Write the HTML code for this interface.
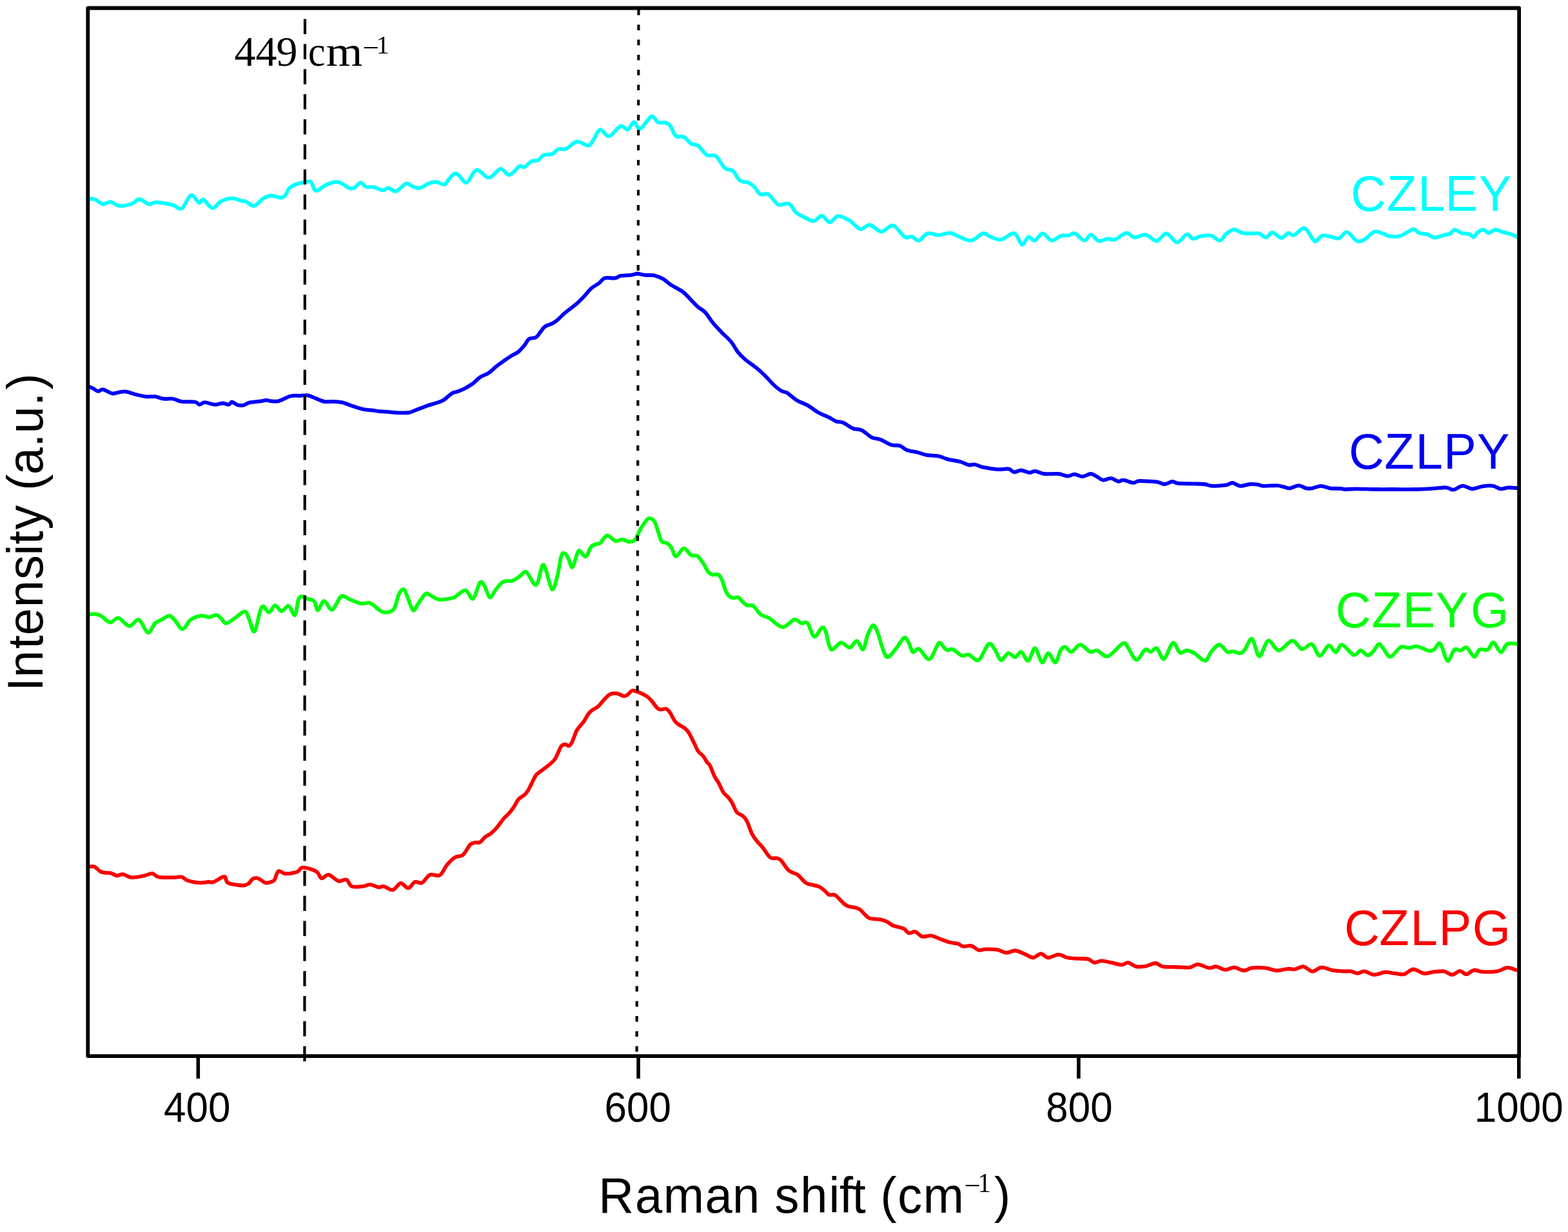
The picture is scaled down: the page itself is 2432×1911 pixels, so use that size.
<!DOCTYPE html><html><head><meta charset="utf-8"><title>Raman spectra</title><style>html,body{margin:0;padding:0;background:#fff;}svg{display:block;}</style></head><body>
<svg width="2432" height="1911" viewBox="0 0 2432 1911">
<rect x="0" y="0" width="2432" height="1911" fill="#fff"/>
<path d="M136.2 309.0C137.9 309.0 142.7 307.7 146.6 309.0C150.5 310.3 155.6 315.9 159.7 316.6C163.8 317.3 167.2 312.7 171.4 313.1C175.7 313.6 179.7 318.8 185.2 319.3C190.7 319.8 199.3 317.6 204.5 315.9C209.7 314.2 211.8 308.9 216.2 309.0C220.6 309.1 226.2 315.8 230.7 316.6C235.2 317.4 237.0 313.6 243.2 313.8C249.4 314.0 261.6 316.4 268.0 318.0C274.4 319.6 277.1 326.0 281.8 323.5C286.5 321.0 291.8 304.3 296.3 302.8C300.8 301.3 305.5 313.4 308.7 314.5C311.9 315.6 312.2 308.3 315.6 309.7C319.1 311.1 324.9 322.4 329.4 322.8C333.9 323.2 337.3 314.9 342.5 312.4C347.7 309.9 355.1 307.7 360.4 307.6C365.7 307.5 370.8 310.9 374.2 311.7C377.6 312.5 377.8 311.1 381.1 312.4C384.4 313.7 389.6 320.1 394.2 319.3C398.8 318.5 404.2 310.2 408.7 307.6C413.2 305.0 416.8 303.6 421.2 303.5C425.6 303.4 431.7 306.9 435.2 306.9C438.7 306.9 439.8 306.0 442.1 303.5C444.4 301.0 446.0 294.7 449.0 291.7C452.0 288.7 456.1 287.0 460.0 285.5C463.9 284.0 468.7 283.4 472.4 282.8C476.1 282.2 479.6 280.3 482.1 282.1C484.6 283.9 485.8 291.6 487.6 293.8C489.4 296.0 490.1 296.4 493.1 295.2C496.1 294.0 501.0 289.1 505.6 286.9C510.2 284.7 516.6 282.5 520.7 282.1C524.8 281.8 527.0 283.2 530.4 284.8C533.8 286.4 538.2 290.6 541.4 291.7C544.6 292.8 546.7 292.5 549.7 291.1C552.7 289.7 556.4 283.7 559.4 283.5C562.4 283.3 564.2 288.6 567.7 289.7C571.2 290.8 575.7 289.5 580.1 290.4C584.5 291.3 590.2 295.0 593.9 295.2C597.6 295.4 598.6 291.5 602.1 291.7C605.6 291.9 610.0 297.8 614.6 296.6C619.2 295.5 625.3 286.0 629.7 284.8C634.1 283.6 637.1 288.6 640.8 289.7C644.5 290.8 648.1 292.4 651.8 291.7C655.5 291.0 659.0 287.1 662.9 285.5C666.8 283.9 670.9 282.0 675.3 282.1C679.7 282.2 685.9 286.6 689.1 286.2C692.3 285.8 692.1 282.8 694.6 280.0C697.1 277.2 701.5 271.1 704.3 269.7C707.1 268.3 708.0 269.4 711.2 271.7C714.5 273.9 719.2 284.5 723.8 283.2C728.4 281.9 733.2 265.1 739.0 263.8C744.8 262.5 752.1 275.9 758.3 275.6C764.5 275.3 770.9 262.5 776.2 261.8C781.5 261.1 785.2 272.0 790.0 271.4C794.8 270.8 801.3 260.4 805.2 258.3C809.1 256.2 810.3 260.4 813.5 259.0C816.7 257.6 821.0 251.7 824.5 250.0C828.0 248.3 831.0 250.3 834.2 248.7C837.4 247.1 840.1 242.0 843.8 240.4C847.5 238.8 852.6 240.5 856.3 239.0C860.0 237.5 862.2 232.8 865.9 231.4C869.6 230.0 873.5 232.6 878.3 230.7C883.1 228.8 889.1 220.5 894.9 219.7C900.6 218.9 908.4 226.6 912.8 225.9C917.2 225.2 918.1 219.7 921.1 215.5C924.1 211.3 926.9 201.7 930.8 201.0C934.7 200.3 939.3 212.3 944.6 211.4C949.9 210.5 957.7 197.2 962.5 195.5C967.3 193.8 970.1 202.0 973.6 201.0C977.1 200.0 980.0 189.5 983.2 189.3C986.4 189.1 988.4 201.1 992.9 199.7C997.4 198.3 1005.7 182.4 1010.3 180.7C1014.9 179.0 1016.9 188.1 1020.7 189.7C1024.5 191.3 1029.9 189.4 1033.1 190.4C1036.3 191.4 1037.5 192.5 1040.0 195.9C1042.5 199.3 1044.8 208.3 1048.3 211.1C1051.8 213.8 1056.8 210.4 1060.7 212.4C1064.6 214.4 1068.1 220.5 1071.8 222.8C1075.5 225.1 1078.7 223.2 1082.8 226.2C1086.9 229.2 1092.0 238.0 1096.6 240.7C1101.2 243.3 1105.8 238.8 1110.4 242.1C1115.0 245.4 1119.8 256.9 1124.2 260.7C1128.6 264.5 1132.7 261.7 1136.6 264.9C1140.5 268.1 1143.5 276.9 1147.6 280.0C1151.7 283.1 1157.7 281.9 1161.4 283.5C1165.1 285.1 1166.7 286.7 1169.7 289.7C1172.7 292.7 1175.7 299.4 1179.4 301.4C1183.1 303.3 1187.2 298.8 1191.8 301.4C1196.4 304.0 1201.7 314.9 1207.0 317.3C1212.3 319.7 1218.9 313.8 1223.5 315.9C1228.1 318.0 1230.7 326.2 1234.6 329.7C1238.5 333.1 1242.4 334.4 1247.0 336.6C1251.6 338.8 1257.6 343.1 1262.2 342.8C1266.8 342.5 1270.5 334.2 1274.6 334.6C1278.7 335.0 1282.8 344.8 1287.0 344.9C1291.2 345.0 1294.6 335.7 1299.7 335.2C1304.8 334.7 1311.8 338.8 1317.6 342.1C1323.3 345.4 1328.9 354.1 1334.2 355.2C1339.5 356.3 1343.8 348.3 1349.3 349.0C1354.8 349.7 1361.3 359.2 1367.3 359.3C1373.3 359.4 1379.2 348.3 1385.2 349.7C1391.2 351.1 1398.4 364.7 1403.2 367.6C1408.0 370.5 1410.5 366.0 1414.2 366.9C1417.9 367.8 1421.1 373.9 1425.2 373.1C1429.3 372.3 1433.9 363.5 1439.0 362.1C1444.1 360.7 1449.8 364.9 1455.6 364.8C1461.3 364.7 1468.0 360.9 1473.5 361.4C1479.0 361.9 1483.2 365.7 1488.7 367.6C1494.2 369.6 1500.6 374.0 1506.6 373.1C1512.6 372.2 1519.8 363.1 1524.6 362.1C1529.4 361.1 1531.0 365.3 1535.6 366.9C1540.2 368.5 1546.5 372.5 1552.2 371.7C1558.0 370.9 1566.0 363.1 1570.1 362.1C1574.2 361.1 1574.5 362.6 1577.0 365.5C1579.5 368.4 1582.3 379.1 1585.3 379.5C1588.3 379.9 1592.0 368.7 1595.2 367.6C1598.5 366.5 1601.1 374.0 1604.8 373.1C1608.5 372.2 1612.9 362.1 1617.3 362.1C1621.7 362.1 1626.3 372.5 1631.1 373.1C1635.9 373.7 1641.8 366.8 1646.2 365.5C1650.6 364.2 1653.8 366.1 1657.3 365.5C1660.8 364.9 1662.8 360.8 1666.9 362.1C1671.0 363.4 1677.9 372.8 1682.1 373.1C1686.2 373.5 1688.1 364.1 1691.8 364.2C1695.5 364.3 1699.8 372.8 1704.2 373.8C1708.6 374.8 1713.9 370.8 1718.0 370.4C1722.1 370.0 1724.2 373.2 1729.0 371.7C1733.8 370.2 1741.9 362.0 1747.0 361.4C1752.1 360.8 1754.4 367.8 1759.4 368.3C1764.5 368.8 1771.5 363.3 1777.3 364.2C1783.0 365.1 1788.6 374.1 1793.9 373.8C1799.2 373.5 1803.8 361.8 1809.1 362.1C1814.4 362.5 1820.3 375.7 1825.6 375.9C1830.9 376.1 1836.6 364.4 1840.8 363.5C1845.0 362.6 1846.8 369.9 1850.5 370.4C1854.2 370.8 1858.3 367.0 1862.9 366.2C1867.5 365.4 1873.4 364.4 1878.3 365.5C1883.2 366.6 1888.2 373.6 1892.1 373.1C1896.0 372.7 1898.0 365.7 1901.7 362.8C1905.4 359.9 1910.1 356.1 1914.2 355.9C1918.3 355.7 1922.0 360.4 1926.6 361.4C1931.2 362.4 1937.4 362.0 1941.8 362.1C1946.2 362.2 1949.1 361.1 1952.8 362.1C1956.5 363.1 1960.3 368.5 1963.8 368.3C1967.2 368.1 1969.6 360.6 1973.5 360.7C1977.4 360.8 1983.2 368.9 1987.3 369.0C1991.4 369.1 1995.1 362.1 1998.3 361.4C2001.5 360.7 2002.7 366.1 2006.6 364.8C2010.5 363.5 2017.9 354.4 2021.8 353.8C2025.7 353.2 2027.1 357.9 2030.1 361.4C2033.1 364.8 2036.2 373.8 2039.7 374.5C2043.2 375.2 2046.4 366.6 2050.8 365.5C2055.2 364.4 2061.5 366.9 2065.9 367.6C2070.3 368.3 2073.1 371.0 2077.0 369.7C2080.9 368.4 2084.8 359.3 2089.4 360.0C2094.0 360.7 2100.0 371.9 2104.6 373.8C2109.2 375.7 2112.4 373.5 2117.0 371.1C2121.6 368.7 2127.4 360.7 2132.2 359.3C2137.0 357.9 2142.2 361.6 2146.0 362.8C2149.8 364.0 2151.1 365.8 2155.2 366.4C2159.3 367.0 2166.2 367.2 2170.4 366.4C2174.6 365.6 2176.8 363.2 2180.5 361.4C2184.2 359.5 2189.2 355.3 2192.6 355.3C2196.0 355.3 2197.1 360.0 2200.7 361.4C2204.2 362.8 2209.8 362.2 2213.9 363.4C2218.0 364.6 2220.4 368.3 2225.0 368.5C2229.6 368.7 2237.1 365.4 2241.2 364.4C2245.2 363.4 2246.8 363.8 2249.3 362.4C2251.8 361.0 2253.5 356.5 2256.4 356.3C2259.3 356.1 2262.6 360.2 2266.5 361.4C2270.4 362.6 2276.4 362.3 2279.6 363.4C2282.8 364.5 2283.7 368.5 2285.7 368.0C2287.7 367.5 2289.3 362.3 2291.8 360.4C2294.3 358.4 2298.0 356.1 2300.9 356.3C2303.8 356.5 2306.0 361.4 2309.0 361.4C2312.0 361.4 2315.2 356.5 2319.1 356.3C2323.0 356.1 2328.1 359.2 2332.3 360.4C2336.5 361.6 2341.0 362.2 2344.4 363.4C2347.8 364.6 2351.2 366.7 2352.5 367.4" fill="none" stroke="#00FFFF" stroke-width="5.8" stroke-linejoin="round" stroke-linecap="round"/>
<path d="M136.9 599.3C138.1 599.8 141.3 600.8 143.8 602.1C146.3 603.4 149.4 606.6 152.1 606.9C154.8 607.2 156.0 603.5 159.7 604.1C163.4 604.7 169.9 609.7 174.2 610.4C178.4 611.1 181.5 608.8 185.2 608.3C188.9 607.8 192.1 607.0 196.2 607.6C200.3 608.2 204.9 610.4 210.0 611.7C215.1 613.0 221.5 614.6 226.6 615.2C231.7 615.8 235.8 614.6 240.4 615.2C245.0 615.8 249.6 618.0 254.2 618.6C258.8 619.2 263.4 617.9 268.0 618.6C272.6 619.3 276.1 622.0 281.8 622.8C287.6 623.6 297.9 622.7 302.5 623.5C307.1 624.3 306.9 627.5 309.4 627.6C311.9 627.7 313.8 624.2 317.7 624.2C321.6 624.2 328.2 627.4 332.8 627.6C337.4 627.8 341.6 625.5 345.3 625.5C349.0 625.5 352.5 627.9 354.9 627.6C357.3 627.3 357.4 623.4 359.7 623.5C362.0 623.6 365.6 627.5 368.7 628.3C371.8 629.1 375.2 629.0 378.4 628.3C381.6 627.6 383.4 625.2 388.0 624.2C392.6 623.2 401.9 622.7 406.0 622.1C410.1 621.5 410.6 620.7 412.9 620.7C415.2 620.7 416.8 621.9 420.0 622.1C423.2 622.3 427.3 623.4 432.4 622.1C437.5 620.8 444.9 615.9 450.4 614.5C455.9 613.1 461.1 614.0 465.5 613.8C469.9 613.6 473.4 612.8 476.6 613.1C479.8 613.5 480.5 614.3 484.9 615.9C489.3 617.5 497.5 621.6 502.8 622.8C508.1 623.9 512.0 622.6 516.6 622.8C521.2 623.0 525.8 623.2 530.4 624.2C535.0 625.2 540.5 627.8 544.2 629.0C547.9 630.2 549.0 630.7 552.5 631.7C556.0 632.7 560.5 634.4 564.9 635.2C569.3 636.0 574.8 636.1 578.7 636.6C582.6 637.1 584.8 637.7 588.3 638.0C591.8 638.3 595.2 638.3 599.4 638.6C603.5 638.9 607.5 639.8 613.2 640.0C619.0 640.2 628.9 640.6 633.9 640.0C638.9 639.4 638.9 638.3 643.5 636.6C648.1 634.9 656.2 631.6 661.5 629.7C666.8 627.9 670.9 627.0 675.3 625.5C679.7 624.0 683.3 623.3 687.7 620.7C692.1 618.1 697.8 611.9 701.5 609.7C705.2 607.5 706.8 608.5 710.0 607.3C713.2 606.1 717.1 604.6 721.0 602.5C724.9 600.4 729.6 597.8 733.5 594.9C737.4 592.0 740.4 588.0 744.5 585.2C748.6 582.4 754.2 581.0 758.3 578.3C762.4 575.5 765.4 571.8 769.3 568.7C773.2 565.6 777.9 562.5 781.8 559.7C785.7 556.9 789.1 554.4 792.8 552.1C796.5 549.8 800.3 548.6 803.8 545.9C807.2 543.1 810.7 538.9 813.5 535.6C816.3 532.3 817.4 528.0 820.4 525.9C823.4 523.8 828.4 525.0 831.4 523.2C834.4 521.4 836.0 517.7 838.3 514.9C840.6 512.1 842.2 508.8 845.2 506.6C848.2 504.4 853.3 503.3 856.3 501.8C859.3 500.3 860.0 500.2 863.2 497.6C866.4 495.0 871.5 489.5 875.6 485.9C879.7 482.3 884.5 479.0 888.0 476.2C891.5 473.4 893.3 472.1 896.3 469.3C899.3 466.6 902.4 463.4 905.9 459.7C909.4 456.0 913.1 450.8 917.0 447.3C920.9 443.9 925.9 441.6 929.4 439.0C932.9 436.4 933.6 432.7 937.7 431.4C941.8 430.1 950.1 432.0 954.2 431.4C958.3 430.8 958.4 428.7 962.5 427.9C966.6 427.1 974.7 427.2 979.1 426.6C983.5 426.0 985.2 424.5 988.7 424.5C992.2 424.5 995.6 426.2 999.8 426.6C1004.0 427.1 1009.2 426.3 1013.8 427.2C1018.4 428.1 1023.0 429.6 1027.6 432.1C1032.2 434.6 1036.1 438.9 1041.4 442.4C1046.7 445.8 1054.2 449.0 1059.3 452.8C1064.4 456.6 1067.9 461.3 1071.8 465.2C1075.7 469.1 1079.1 473.0 1082.8 476.2C1086.5 479.4 1090.1 480.6 1093.8 484.5C1097.5 488.4 1100.8 494.6 1104.9 499.7C1109.1 504.8 1113.9 509.8 1118.7 514.9C1123.5 519.9 1129.4 524.7 1133.8 530.0C1138.2 535.3 1141.2 542.0 1144.9 546.6C1148.6 551.2 1151.3 553.7 1155.9 557.6C1160.5 561.5 1167.4 566.0 1172.5 570.1C1177.6 574.2 1181.7 578.0 1186.3 582.5C1190.9 587.0 1195.8 593.0 1200.1 597.0C1204.4 601.0 1209.0 604.6 1212.4 606.6C1215.8 608.6 1216.8 606.9 1220.7 609.3C1224.6 611.7 1230.6 617.8 1235.9 621.0C1241.2 624.2 1246.9 625.5 1252.4 628.6C1257.9 631.7 1263.5 636.6 1269.0 639.7C1274.5 642.8 1281.0 645.0 1285.6 647.3C1290.2 649.6 1292.9 652.1 1296.6 653.5C1300.3 654.9 1303.2 653.7 1307.6 655.5C1312.0 657.3 1318.0 662.5 1322.8 664.5C1327.6 666.5 1331.8 665.0 1336.6 667.3C1341.4 669.6 1347.0 675.9 1351.8 678.3C1356.6 680.7 1360.5 679.8 1365.6 681.8C1370.6 683.8 1377.0 688.4 1382.1 690.0C1387.1 691.6 1391.8 690.0 1395.9 691.4C1400.1 692.8 1402.4 696.6 1407.0 698.3C1411.6 700.0 1418.5 700.5 1423.5 701.8C1428.5 703.1 1432.0 705.0 1437.3 705.9C1442.6 706.8 1450.0 706.3 1455.3 707.3C1460.6 708.3 1463.3 710.6 1469.1 712.1C1474.8 713.6 1484.2 714.8 1489.8 716.3C1495.3 717.8 1498.7 720.5 1502.4 721.2C1506.1 721.9 1508.4 719.9 1512.1 720.5C1515.8 721.1 1518.5 723.4 1524.5 724.7C1530.5 726.0 1541.3 727.7 1548.0 728.1C1554.7 728.5 1560.4 726.7 1564.5 727.4C1568.6 728.1 1569.6 731.9 1572.8 732.3C1576.0 732.6 1579.9 729.4 1583.8 729.5C1587.7 729.6 1592.6 732.8 1596.3 733.0C1600.0 733.2 1602.0 730.6 1605.9 730.9C1609.8 731.2 1613.7 734.3 1619.7 735.0C1625.7 735.7 1635.8 734.4 1641.8 735.0C1647.8 735.6 1651.5 738.4 1655.6 738.5C1659.7 738.6 1662.7 735.6 1666.6 735.7C1670.5 735.8 1674.8 739.3 1679.0 739.2C1683.2 739.1 1687.8 735.0 1691.5 735.0C1695.2 735.0 1697.9 737.6 1701.1 739.2C1704.3 740.8 1707.1 744.2 1710.8 744.7C1714.5 745.2 1719.3 741.6 1723.2 741.9C1727.1 742.2 1731.0 746.2 1734.2 746.7C1737.4 747.2 1738.6 744.4 1742.5 744.7C1746.4 745.1 1753.8 748.6 1757.7 748.8C1761.6 749.0 1762.3 746.5 1766.0 746.1C1769.7 745.7 1774.9 746.2 1779.8 746.5C1784.7 746.8 1790.8 746.9 1795.2 747.6C1799.6 748.4 1802.3 751.1 1806.2 751.0C1810.1 750.9 1815.1 747.1 1818.6 746.9C1822.0 746.7 1821.8 749.1 1826.9 749.7C1832.0 750.3 1842.1 750.2 1849.0 750.4C1855.9 750.6 1863.0 750.4 1868.3 751.0C1873.6 751.6 1875.2 753.6 1880.7 753.8C1886.2 754.0 1896.2 753.2 1901.4 752.4C1906.6 751.6 1908.1 748.8 1911.8 749.0C1915.5 749.2 1919.0 753.5 1923.5 753.8C1928.0 754.1 1934.1 751.4 1938.7 751.0C1943.3 750.6 1947.6 751.2 1951.1 751.7C1954.5 752.2 1954.6 753.6 1959.4 753.8C1964.2 754.0 1974.8 752.9 1980.1 753.1C1985.4 753.3 1987.6 754.5 1991.1 755.2C1994.5 755.9 1996.9 757.6 2000.8 757.3C2004.7 756.9 2010.5 753.1 2014.6 753.1C2018.7 753.1 2022.1 756.6 2025.6 757.3C2029.0 758.0 2031.4 757.9 2035.3 757.3C2039.2 756.7 2044.5 753.8 2049.1 753.8C2053.7 753.8 2057.8 756.6 2062.9 757.3C2068.1 758.0 2076.2 757.6 2080.0 757.9C2083.8 758.2 2082.1 758.9 2086.0 759.0C2089.9 759.1 2094.9 758.3 2103.3 758.3C2111.8 758.3 2126.7 758.9 2136.7 759.0C2146.7 759.1 2153.4 759.0 2163.4 759.0C2173.4 759.0 2186.7 759.2 2196.7 759.0C2206.7 758.8 2215.6 758.2 2223.4 757.7C2231.2 757.2 2238.3 756.0 2243.4 756.3C2248.5 756.6 2249.9 760.1 2254.1 759.7C2258.3 759.3 2263.8 753.9 2268.7 753.7C2273.6 753.5 2278.3 758.2 2283.4 758.3C2288.5 758.4 2294.1 755.1 2299.4 754.3C2304.7 753.5 2310.7 753.0 2315.4 753.7C2320.1 754.4 2323.4 757.9 2327.4 758.3C2331.4 758.7 2335.2 756.5 2339.4 756.3C2343.6 756.1 2350.2 756.9 2352.4 757.0" fill="none" stroke="#0000F8" stroke-width="5.8" stroke-linejoin="round" stroke-linecap="round"/>
<path d="M136.9 953.1C138.7 953.0 144.5 951.9 147.9 952.4C151.3 952.9 153.8 953.7 157.6 955.9C161.4 958.1 166.3 965.0 170.7 965.5C175.1 966.0 178.9 957.7 183.8 958.6C188.8 959.5 195.1 970.6 200.4 971.1C205.7 971.6 210.8 959.7 215.6 961.4C220.4 963.1 225.3 980.5 229.4 981.4C233.5 982.3 236.7 970.3 240.4 966.9C244.1 963.5 247.7 962.7 251.4 960.7C255.1 958.8 259.3 955.1 262.5 955.2C265.7 955.3 267.2 958.0 270.7 961.4C274.1 964.8 279.0 975.9 283.2 975.9C287.4 975.9 290.8 964.8 295.6 961.4C300.4 958.0 307.3 955.9 312.1 955.2C316.9 954.5 320.7 957.5 324.6 957.3C328.5 957.1 332.6 953.6 335.6 953.8C338.6 954.0 340.0 956.4 342.5 958.6C345.0 960.8 347.1 966.9 350.8 966.9C354.5 966.9 359.8 961.7 364.6 958.6C369.4 955.5 376.1 947.8 379.8 948.3C383.5 948.8 384.2 956.2 386.7 961.4C389.2 966.6 391.7 982.6 394.9 979.3C398.1 976.0 402.3 946.3 406.0 941.4C409.7 936.5 413.5 950.1 417.0 949.7C420.5 949.3 423.5 939.5 426.8 939.2C430.1 938.9 433.1 947.9 436.6 948.0C440.1 948.1 444.2 938.7 447.6 939.7C451.1 940.7 454.8 955.8 457.3 954.2C459.8 952.6 461.0 934.8 462.8 930.0C464.6 925.2 465.8 925.3 468.3 925.2C470.8 925.1 474.8 928.0 478.0 929.3C481.2 930.6 485.1 929.9 487.6 932.8C490.1 935.7 490.6 946.7 493.1 946.6C495.6 946.5 499.1 932.2 502.8 932.1C506.5 932.0 510.8 947.0 515.2 945.9C519.6 944.8 524.6 928.0 529.0 925.2C533.4 922.4 536.3 927.5 541.4 929.3C546.5 931.1 554.3 935.3 559.4 936.2C564.5 937.1 568.6 934.4 571.8 934.8C575.0 935.1 575.0 935.9 578.7 938.3C582.4 940.7 588.6 948.1 593.9 949.3C599.2 950.4 606.3 949.8 610.4 945.2C614.5 940.6 616.1 926.9 618.7 921.7C621.4 916.5 624.0 913.2 626.3 914.1C628.6 915.0 630.1 921.9 632.5 927.3C634.9 932.7 638.0 945.2 640.8 946.6C643.6 948.0 645.9 939.8 649.1 935.5C652.3 931.2 656.9 923.0 660.1 921.0C663.3 919.0 665.0 922.3 668.4 923.8C671.8 925.3 675.0 929.4 680.8 930.0C686.5 930.6 698.0 928.5 702.9 927.3C707.8 926.0 706.8 924.5 710.0 922.5C713.2 920.5 718.5 914.6 722.4 915.6C726.3 916.6 729.8 930.7 733.5 928.7C737.2 926.7 741.5 907.1 744.5 903.8C747.5 900.5 748.9 904.9 751.4 908.7C753.9 912.5 756.7 925.7 759.7 926.6C762.7 927.5 765.8 918.2 769.3 914.2C772.8 910.2 776.0 904.8 780.4 902.5C784.8 900.2 791.2 901.9 795.6 900.4C800.0 898.9 803.2 895.7 806.6 893.5C810.0 891.3 812.2 885.0 816.3 887.3C820.4 889.6 827.3 908.9 831.4 907.3C835.5 905.7 838.6 881.5 841.1 877.6C843.6 873.7 844.1 877.7 846.6 883.8C849.1 889.9 853.3 912.6 856.3 914.2C859.3 915.8 862.1 902.2 864.5 893.5C866.9 884.8 868.7 867.5 870.8 861.8C872.9 856.0 875.0 857.9 877.0 859.0C879.0 860.1 880.7 865.2 882.5 868.7C884.3 872.2 885.7 881.8 888.0 879.7C890.3 877.6 894.2 860.2 896.3 856.2C898.4 852.2 898.3 854.4 900.4 855.5C902.5 856.6 905.9 864.4 908.7 863.1C911.5 861.9 914.2 851.2 917.0 848.0C919.8 844.8 923.0 844.7 925.3 843.8C927.6 842.9 928.0 844.6 930.8 842.4C933.5 840.2 937.9 831.3 941.8 830.7C945.7 830.1 950.3 838.0 954.2 839.0C958.1 840.0 961.6 836.7 965.3 836.9C969.0 837.1 973.1 840.3 976.3 840.4C979.5 840.5 981.8 840.7 984.6 837.6C987.4 834.5 990.4 826.2 992.9 821.7C995.4 817.2 997.5 813.7 999.8 810.7C1002.1 807.7 1004.3 804.0 1006.9 803.8C1009.5 803.6 1012.9 805.8 1015.2 809.3C1017.5 812.8 1018.9 819.4 1020.7 824.5C1022.5 829.6 1023.9 836.7 1026.2 839.7C1028.5 842.7 1032.0 840.8 1034.5 842.4C1037.0 844.0 1039.1 845.8 1041.4 849.3C1043.7 852.8 1045.1 862.9 1048.3 863.1C1051.5 863.3 1056.8 851.0 1060.7 850.7C1064.6 850.4 1068.3 859.2 1071.8 861.1C1075.2 863.0 1078.2 860.2 1081.4 862.4C1084.6 864.6 1088.3 870.2 1091.1 874.2C1093.9 878.2 1095.7 883.7 1098.0 886.6C1100.3 889.5 1102.2 890.6 1104.9 891.4C1107.7 892.2 1112.0 889.9 1114.5 891.4C1117.0 892.9 1117.9 895.7 1120.0 900.4C1122.1 905.1 1124.4 915.2 1126.9 919.7C1129.4 924.2 1132.2 926.1 1135.2 927.3C1138.2 928.4 1142.1 925.6 1144.9 926.6C1147.7 927.6 1149.5 931.4 1151.8 933.5C1154.1 935.6 1156.0 938.0 1158.7 939.0C1161.5 940.0 1164.8 937.4 1168.3 939.7C1171.8 942.0 1175.2 949.6 1179.4 952.8C1183.6 956.0 1187.5 955.7 1193.2 959.0C1199.0 962.3 1207.5 972.4 1213.9 972.8C1220.3 973.1 1227.0 962.1 1231.8 961.1C1236.6 960.1 1239.5 965.7 1242.9 966.6C1246.4 967.5 1249.2 963.1 1252.5 966.6C1255.8 970.1 1259.2 986.4 1263.0 987.5C1266.8 988.6 1272.0 974.8 1275.0 973.5C1278.0 972.2 1278.4 974.1 1280.7 979.7C1283.0 985.3 1285.1 1004.4 1289.0 1007.3C1292.9 1010.2 1299.4 997.4 1304.2 996.9C1309.0 996.4 1313.9 1005.0 1318.0 1004.5C1322.1 1004.0 1325.5 993.7 1329.0 994.2C1332.5 994.7 1335.9 1008.8 1338.7 1007.3C1341.5 1005.8 1343.1 991.4 1345.6 985.2C1348.1 979.0 1351.3 970.9 1353.8 970.0C1356.3 969.1 1357.2 971.7 1360.7 979.7C1364.2 987.8 1369.7 1013.9 1374.5 1018.3C1379.3 1022.7 1385.1 1010.7 1389.7 1005.9C1394.3 1001.1 1398.9 990.9 1402.1 989.3C1405.3 987.7 1406.7 992.5 1409.0 996.2C1411.3 999.9 1413.1 1009.7 1415.9 1011.4C1418.7 1013.1 1421.3 1004.8 1425.6 1006.6C1429.9 1008.5 1436.4 1024.0 1441.5 1022.5C1446.6 1021.0 1452.2 1000.6 1456.0 997.6C1459.8 994.6 1461.9 1002.6 1464.2 1004.5C1466.5 1006.4 1467.4 1008.2 1469.7 1008.7C1472.0 1009.2 1474.3 1005.9 1478.0 1007.3C1481.7 1008.7 1487.6 1015.5 1491.8 1016.9C1496.0 1018.3 1498.5 1014.5 1502.9 1015.6C1507.3 1016.8 1513.0 1026.6 1518.0 1023.8C1523.0 1021.0 1529.0 1001.8 1533.2 999.0C1537.4 996.2 1539.7 1003.1 1542.9 1007.3C1546.1 1011.5 1549.1 1023.0 1552.6 1024.0C1556.1 1025.0 1560.1 1013.9 1563.8 1013.1C1567.5 1012.3 1571.5 1019.6 1574.8 1019.3C1578.1 1019.0 1580.5 1010.2 1583.8 1011.1C1587.1 1012.0 1591.2 1025.8 1594.8 1024.9C1598.4 1024.0 1601.6 1005.1 1605.2 1005.5C1608.8 1005.9 1612.8 1026.3 1616.2 1027.6C1619.7 1028.9 1622.5 1013.1 1625.9 1013.1C1629.4 1013.1 1633.7 1028.4 1636.9 1027.6C1640.1 1026.8 1642.7 1012.3 1645.2 1008.3C1647.7 1004.3 1649.3 1003.0 1652.1 1003.5C1654.9 1004.0 1657.9 1011.7 1661.8 1011.1C1665.7 1010.5 1670.8 1000.0 1675.6 1000.0C1680.4 1000.0 1686.4 1009.6 1690.8 1011.1C1695.2 1012.6 1697.2 1007.9 1701.8 1009.0C1706.4 1010.1 1711.6 1019.9 1718.3 1018.0C1725.0 1016.1 1736.5 1000.0 1741.8 997.9C1747.1 995.8 1746.6 1001.2 1750.1 1005.5C1753.5 1009.8 1758.1 1023.1 1762.5 1023.5C1766.9 1023.9 1772.6 1009.7 1776.3 1007.6C1780.0 1005.5 1781.6 1011.5 1784.6 1011.1C1787.6 1010.8 1790.8 1003.7 1794.2 1005.5C1797.7 1007.3 1801.2 1023.5 1805.3 1022.1C1809.4 1020.7 1815.0 998.9 1819.1 997.3C1823.2 995.7 1826.5 1010.4 1830.1 1012.4C1833.7 1014.4 1836.9 1008.9 1840.6 1009.0C1844.3 1009.1 1847.7 1010.5 1852.4 1013.1C1857.1 1015.8 1864.6 1025.2 1869.0 1024.9C1873.4 1024.6 1874.9 1015.2 1878.6 1011.1C1882.3 1007.0 1886.9 1000.0 1891.1 1000.0C1895.2 1000.0 1900.0 1009.4 1903.5 1011.1C1907.0 1012.8 1908.3 1010.1 1911.8 1010.4C1915.2 1010.7 1921.0 1013.7 1924.2 1013.1C1927.4 1012.5 1928.1 1010.6 1931.1 1006.9C1934.1 1003.2 1938.4 989.1 1942.1 991.0C1945.8 992.9 1949.0 1017.5 1953.2 1018.0C1957.4 1018.5 1962.0 995.3 1967.0 993.8C1972.0 992.3 1977.3 1009.0 1983.5 1009.0C1989.7 1009.0 1998.2 994.1 2004.2 993.8C2010.2 993.4 2014.3 1006.0 2019.4 1006.9C2024.5 1007.8 2030.0 997.6 2034.6 999.3C2039.2 1001.0 2042.6 1016.9 2047.0 1017.3C2051.4 1017.6 2056.7 1002.3 2060.8 1001.4C2064.9 1000.5 2068.4 1011.9 2071.8 1011.7C2075.2 1011.5 2076.9 999.3 2081.5 1000.0C2086.1 1000.7 2094.6 1014.4 2099.4 1015.9C2104.2 1017.4 2106.8 1008.9 2110.5 1009.0C2114.2 1009.1 2118.2 1016.4 2121.5 1016.6C2124.8 1016.8 2127.2 1013.1 2130.0 1010.2C2132.8 1007.3 2136.0 1000.0 2138.5 999.1C2141.0 998.2 2141.8 1001.6 2144.8 1004.9C2147.8 1008.2 2151.8 1018.9 2156.4 1018.7C2161.0 1018.5 2167.5 1006.2 2172.3 1003.9C2177.1 1001.6 2180.6 1005.1 2185.0 1004.9C2189.4 1004.7 2193.5 1002.0 2198.8 1002.8C2204.1 1003.6 2212.4 1009.1 2216.8 1009.7C2221.2 1010.3 2222.7 1008.5 2225.2 1006.5C2227.7 1004.5 2229.8 998.8 2231.6 998.0C2233.4 997.2 2233.5 997.2 2235.8 1001.7C2238.1 1006.2 2242.0 1024.0 2245.3 1025.0C2248.7 1026.0 2252.6 1010.2 2255.9 1007.6C2259.2 1005.0 2262.2 1009.6 2265.4 1009.1C2268.6 1008.6 2271.4 1002.8 2274.9 1004.4C2278.4 1006.0 2283.2 1018.2 2286.6 1018.7C2289.9 1019.2 2291.5 1009.5 2295.0 1007.6C2298.5 1005.8 2304.2 1009.5 2307.7 1007.6C2311.2 1005.7 2312.8 995.7 2316.2 996.4C2319.5 997.1 2324.3 1011.3 2327.8 1011.8C2331.3 1012.2 2333.3 1001.3 2337.4 999.1C2341.5 996.9 2349.7 998.7 2352.2 998.6" fill="none" stroke="#00FF0C" stroke-width="5.8" stroke-linejoin="round" stroke-linecap="round"/>
<path d="M136.9 1344.5C138.5 1344.5 143.2 1343.1 146.6 1344.5C150.0 1345.9 153.5 1351.2 157.6 1352.8C161.7 1354.4 167.5 1353.3 171.4 1354.2C175.3 1355.1 177.9 1358.0 181.1 1358.3C184.3 1358.6 186.8 1355.7 190.7 1356.2C194.6 1356.7 199.0 1360.8 204.5 1361.1C210.0 1361.4 218.5 1359.3 223.8 1358.3C229.1 1357.2 232.6 1354.4 236.3 1354.8C240.0 1355.2 240.6 1359.4 245.9 1360.4C251.2 1361.5 262.0 1361.1 268.0 1361.1C274.0 1361.1 277.9 1359.6 281.8 1360.4C285.7 1361.2 286.8 1364.4 291.4 1365.9C296.0 1367.4 304.1 1369.0 309.4 1369.3C314.7 1369.6 319.5 1368.2 323.2 1368.0C326.9 1367.8 327.4 1369.4 331.5 1368.0C335.6 1366.6 344.3 1359.5 348.0 1359.7C351.7 1359.9 348.9 1367.0 353.5 1369.3C358.1 1371.6 370.3 1373.3 375.6 1373.5C380.9 1373.7 382.5 1372.4 385.3 1370.7C388.1 1369.0 389.7 1364.5 392.2 1363.1C394.7 1361.7 397.3 1361.4 400.5 1362.4C403.7 1363.4 408.2 1368.4 411.5 1369.3C414.8 1370.2 417.7 1368.7 420.0 1368.0C422.3 1367.3 423.6 1368.0 425.5 1365.2C427.4 1362.4 429.2 1353.1 431.7 1351.4C434.2 1349.7 437.6 1354.2 440.7 1354.8C443.8 1355.4 446.9 1355.2 450.4 1354.8C453.8 1354.3 458.4 1353.6 461.4 1352.1C464.4 1350.6 465.3 1346.7 468.3 1345.9C471.3 1345.1 475.4 1346.2 479.3 1347.3C483.2 1348.4 488.6 1350.3 491.8 1352.8C495.0 1355.3 495.7 1361.7 498.7 1362.4C501.7 1363.1 505.3 1356.2 509.7 1356.9C514.1 1357.6 520.3 1365.3 524.9 1366.6C529.5 1367.9 533.8 1363.1 537.3 1364.5C540.8 1365.9 541.5 1373.2 545.6 1374.9C549.7 1376.6 557.3 1375.4 562.1 1374.9C566.9 1374.4 570.4 1371.9 574.5 1372.1C578.6 1372.3 583.5 1375.7 587.0 1376.2C590.5 1376.7 591.5 1374.2 595.2 1374.9C598.9 1375.6 604.6 1381.2 609.0 1380.4C613.4 1379.6 617.5 1370.5 621.5 1370.0C625.5 1369.5 629.5 1377.9 633.2 1377.6C636.9 1377.3 639.9 1369.4 643.5 1368.0C647.1 1366.6 650.7 1371.1 654.6 1369.3C658.5 1367.5 662.4 1358.9 667.0 1356.9C671.6 1355.0 677.8 1360.1 682.2 1357.6C686.6 1355.1 689.3 1346.3 693.2 1341.7C697.1 1337.1 701.7 1332.4 705.6 1330.0C709.5 1327.6 714.1 1328.7 716.9 1327.1C719.7 1325.5 720.5 1323.1 722.6 1320.2C724.7 1317.3 727.2 1312.0 729.5 1309.8C731.8 1307.6 733.9 1307.6 736.4 1307.0C738.9 1306.4 741.8 1307.9 744.5 1306.4C747.2 1305.0 749.6 1300.6 752.5 1298.3C755.4 1296.0 758.6 1295.1 761.7 1292.6C764.8 1290.1 767.6 1287.2 770.9 1283.4C774.2 1279.6 778.0 1273.4 781.3 1269.6C784.6 1265.8 787.8 1263.5 790.5 1260.4C793.2 1257.3 795.1 1254.7 797.4 1251.2C799.7 1247.8 801.6 1242.8 804.3 1239.7C807.0 1236.6 811.0 1235.1 813.5 1232.8C816.0 1230.5 817.3 1229.0 819.2 1225.9C821.1 1222.8 822.9 1218.4 825.0 1214.4C827.1 1210.4 829.0 1205.2 831.9 1201.7C834.8 1198.2 838.8 1196.4 842.2 1193.7C845.7 1191.0 849.5 1188.3 852.6 1185.6C855.7 1182.9 858.5 1180.5 860.6 1177.6C862.7 1174.7 863.5 1171.9 865.2 1168.4C866.9 1165.0 869.1 1159.2 871.0 1156.9C872.9 1154.6 874.8 1154.6 876.7 1154.6C878.6 1154.6 880.9 1157.5 882.6 1156.9C884.4 1156.3 885.3 1155.0 887.2 1151.2C889.1 1147.4 892.0 1138.1 894.1 1133.9C896.2 1129.7 898.0 1128.4 899.9 1125.9C901.8 1123.4 903.5 1122.1 905.6 1119.0C907.7 1115.9 910.4 1110.4 912.5 1107.5C914.6 1104.6 915.8 1103.6 918.3 1101.7C920.8 1099.8 924.4 1098.7 927.5 1096.0C930.6 1093.3 933.6 1088.8 936.7 1085.6C939.8 1082.4 943.0 1078.7 945.9 1077.0C948.8 1075.3 951.6 1075.4 953.9 1075.3C956.2 1075.2 957.4 1075.6 959.7 1076.4C962.0 1077.2 965.4 1079.7 967.7 1079.9C970.0 1080.1 971.4 1079.0 973.5 1077.6C975.6 1076.2 977.9 1072.1 980.4 1071.3C982.9 1070.5 985.7 1072.2 988.4 1073.0C991.1 1073.8 993.8 1075.1 996.5 1076.4C999.2 1077.7 1002.0 1079.1 1004.5 1081.0C1007.0 1082.9 1008.9 1085.1 1011.4 1088.0C1013.9 1090.9 1017.2 1096.2 1019.5 1098.3C1021.8 1100.4 1022.9 1100.4 1025.2 1100.6C1027.5 1100.8 1031.0 1098.6 1033.3 1099.4C1035.6 1100.2 1036.7 1101.9 1039.0 1105.2C1041.3 1108.5 1044.6 1115.8 1047.1 1119.0C1049.6 1122.2 1051.3 1122.8 1054.0 1124.7C1056.7 1126.6 1060.7 1128.4 1063.2 1130.5C1065.7 1132.6 1066.6 1133.6 1068.9 1137.4C1071.2 1141.2 1074.7 1148.9 1077.0 1153.5C1079.3 1158.1 1080.4 1161.8 1082.7 1165.0C1085.0 1168.2 1088.5 1170.1 1090.8 1173.0C1093.1 1175.9 1094.8 1179.8 1096.5 1182.2C1098.2 1184.6 1099.1 1183.7 1101.1 1187.4C1103.1 1191.1 1106.2 1200.1 1108.4 1204.6C1110.7 1209.1 1112.3 1210.3 1114.6 1214.4C1116.9 1218.5 1119.5 1225.5 1122.0 1229.2C1124.5 1232.9 1127.2 1233.9 1129.4 1236.6C1131.7 1239.3 1133.2 1241.3 1135.5 1245.2C1137.8 1249.1 1140.0 1256.4 1142.9 1259.9C1145.8 1263.4 1150.0 1263.6 1152.7 1266.1C1155.4 1268.6 1156.7 1270.2 1158.9 1274.7C1161.2 1279.2 1163.8 1288.2 1166.2 1293.1C1168.7 1298.0 1170.7 1300.5 1173.6 1304.2C1176.5 1307.9 1180.0 1311.0 1183.5 1315.3C1187.0 1319.6 1190.8 1327.3 1194.5 1330.0C1198.2 1332.7 1202.7 1330.5 1205.6 1331.3C1208.5 1332.1 1209.0 1332.0 1211.7 1334.9C1214.4 1337.8 1218.7 1345.4 1221.6 1348.5C1224.5 1351.6 1226.3 1352.0 1229.0 1353.4C1231.7 1354.8 1234.1 1354.4 1237.6 1357.1C1241.1 1359.8 1245.8 1366.7 1249.9 1369.4C1254.0 1372.1 1258.7 1372.1 1262.2 1373.1C1265.7 1374.1 1267.8 1374.0 1270.8 1375.5C1273.8 1377.0 1277.5 1380.3 1280.0 1382.4C1282.5 1384.5 1283.0 1386.9 1285.5 1387.9C1288.0 1388.9 1291.5 1386.5 1295.2 1388.6C1298.9 1390.7 1304.1 1397.5 1307.6 1400.4C1311.0 1403.3 1311.8 1404.3 1315.9 1405.9C1320.0 1407.5 1327.1 1407.0 1332.4 1410.0C1337.7 1413.0 1342.5 1421.1 1347.6 1423.8C1352.7 1426.5 1358.2 1425.0 1362.8 1425.9C1367.4 1426.8 1371.5 1427.7 1375.2 1429.3C1378.9 1430.9 1380.5 1433.7 1384.9 1435.5C1389.3 1437.3 1397.3 1438.4 1401.4 1440.4C1405.5 1442.4 1406.7 1446.5 1409.7 1447.3C1412.7 1448.1 1416.0 1444.3 1419.4 1445.2C1422.9 1446.1 1426.3 1451.8 1430.4 1452.8C1434.5 1453.8 1439.4 1450.7 1444.2 1451.4C1449.0 1452.1 1454.6 1455.2 1459.4 1456.9C1464.2 1458.6 1468.8 1460.7 1473.2 1461.8C1477.6 1462.9 1482.1 1462.8 1485.6 1463.8C1489.0 1464.8 1490.4 1467.5 1493.9 1468.0C1497.4 1468.5 1502.6 1466.1 1506.6 1467.1C1510.6 1468.1 1514.2 1472.9 1517.9 1473.8C1521.6 1474.7 1524.2 1472.5 1529.0 1472.4C1533.8 1472.3 1541.6 1472.2 1546.9 1473.1C1552.2 1474.0 1556.1 1477.7 1560.7 1477.9C1565.3 1478.1 1569.7 1474.2 1574.5 1474.5C1579.3 1474.8 1585.1 1478.2 1589.7 1480.0C1594.3 1481.8 1598.0 1485.6 1602.1 1485.5C1606.2 1485.4 1610.6 1479.3 1614.5 1479.3C1618.4 1479.3 1621.0 1485.3 1625.6 1485.5C1630.2 1485.7 1637.0 1480.7 1642.1 1480.7C1647.1 1480.7 1650.8 1484.5 1655.9 1485.5C1661.0 1486.5 1667.2 1486.6 1672.5 1486.9C1677.8 1487.2 1683.6 1486.6 1687.7 1487.6C1691.8 1488.6 1693.8 1492.6 1697.3 1493.1C1700.8 1493.6 1704.0 1490.4 1708.4 1490.4C1712.8 1490.4 1718.2 1492.1 1723.5 1493.1C1728.8 1494.1 1735.7 1496.6 1740.1 1496.6C1744.5 1496.6 1746.1 1492.6 1749.8 1493.1C1753.5 1493.5 1757.6 1498.4 1762.2 1499.3C1766.8 1500.2 1772.4 1499.5 1777.4 1498.6C1782.4 1497.7 1787.6 1493.9 1792.0 1494.0C1796.4 1494.1 1798.4 1498.3 1803.8 1499.3C1809.2 1500.3 1817.6 1499.8 1824.5 1500.0C1831.4 1500.2 1839.7 1501.4 1845.2 1500.7C1850.7 1500.0 1852.5 1495.8 1857.6 1495.9C1862.7 1496.0 1870.8 1500.8 1875.6 1501.4C1880.4 1502.0 1882.5 1498.8 1886.6 1499.3C1890.7 1499.8 1895.8 1504.0 1900.4 1504.2C1905.0 1504.4 1909.4 1500.5 1914.2 1500.7C1919.0 1500.9 1924.8 1505.4 1929.4 1505.5C1934.0 1505.6 1936.3 1502.1 1941.8 1501.4C1947.3 1500.7 1956.1 1500.7 1962.5 1501.4C1968.9 1502.1 1974.7 1505.3 1980.4 1505.5C1986.2 1505.7 1992.4 1503.1 1997.0 1502.8C2001.6 1502.5 2003.9 1504.1 2008.0 1503.5C2012.1 1502.9 2017.2 1498.7 2021.8 1499.3C2026.4 1499.9 2031.0 1506.7 2035.6 1506.9C2040.2 1507.1 2044.3 1501.1 2049.4 1500.7C2054.5 1500.3 2060.4 1503.8 2066.0 1504.8C2071.6 1505.8 2078.1 1506.2 2083.0 1506.5C2087.9 1506.8 2091.7 1506.1 2095.5 1506.7C2099.3 1507.3 2102.4 1509.9 2105.8 1509.9C2109.2 1509.9 2111.8 1506.4 2116.1 1506.7C2120.4 1507.0 2126.1 1511.7 2131.5 1511.9C2136.9 1512.1 2142.9 1508.3 2148.3 1508.0C2153.7 1507.7 2158.8 1509.4 2163.7 1509.9C2168.6 1510.4 2173.2 1512.3 2177.9 1511.2C2182.6 1510.1 2186.9 1503.7 2192.1 1503.5C2197.2 1503.3 2203.4 1509.2 2208.8 1509.9C2214.2 1510.6 2219.2 1507.9 2224.3 1507.4C2229.5 1506.9 2235.0 1506.0 2239.7 1506.7C2244.4 1507.5 2248.5 1512.0 2252.6 1511.9C2256.7 1511.8 2260.5 1506.2 2264.2 1506.1C2267.8 1506.0 2270.8 1511.4 2274.5 1511.2C2278.2 1511.0 2282.0 1505.4 2286.1 1504.8C2290.2 1504.2 2293.0 1507.1 2299.0 1507.4C2305.0 1507.7 2315.7 1507.8 2322.1 1506.7C2328.5 1505.6 2332.6 1501.2 2337.6 1500.9C2342.6 1500.6 2349.4 1504.2 2351.8 1504.8" fill="none" stroke="#F80000" stroke-width="5.8" stroke-linejoin="round" stroke-linecap="round"/>
<line x1="473.0" y1="29.5" x2="472.4" y2="1648" stroke="#000" stroke-width="4.2" stroke-dasharray="23.5 15.36"/>
<line x1="990.5" y1="15.0" x2="987.6" y2="1634" stroke="#000" stroke-width="4.2" stroke-dasharray="8.6 14.7"/>
<rect x="136.3" y="12.5" width="2219.8" height="1625.6" fill="none" stroke="#000" stroke-width="5.8" stroke-linejoin="round"/>
<line x1="307.3" y1="1638.1" x2="307.3" y2="1673" stroke="#000" stroke-width="5.6"/>
<line x1="990.1" y1="1638.1" x2="990.1" y2="1673" stroke="#000" stroke-width="5.6"/>
<line x1="1673.0" y1="1638.1" x2="1673.0" y2="1673" stroke="#000" stroke-width="5.6"/>
<line x1="2355.8" y1="1638.1" x2="2355.8" y2="1673" stroke="#000" stroke-width="5.6"/>
<text transform="translate(0 1739.8) scale(1 1.035)" x="253.9 288.4 322.9" y="0" font-family="Liberation Sans, Arial, Helvetica, sans-serif" font-size="62" fill="#000">400</text>
<text transform="translate(0 1739.8) scale(1 1.035)" x="937.6 972.1 1006.6" y="0" font-family="Liberation Sans, Arial, Helvetica, sans-serif" font-size="62" fill="#000">600</text>
<text transform="translate(0 1739.8) scale(1 1.035)" x="1622.3 1656.8 1691.3" y="0" font-family="Liberation Sans, Arial, Helvetica, sans-serif" font-size="62" fill="#000">800</text>
<text transform="translate(0 1739.8) scale(1 1.035)" x="2286.8 2321.3 2355.8 2390.3" y="0" font-family="Liberation Sans, Arial, Helvetica, sans-serif" font-size="62" fill="#000">1000</text>
<text transform="translate(0 1880.5) scale(1 1.035)" y="0" font-family="Liberation Sans, Arial, Helvetica, sans-serif" font-size="76" fill="#000"><tspan x="928.2 985.1 1028.8 1093.6 1135.9">Raman</tspan><tspan x="1180"> </tspan><tspan x="1201.6 1241.2 1285.4 1301.9 1321.7">shift</tspan><tspan x="1344"> </tspan><tspan x="1365.6 1392.2 1431.7">(cm</tspan><tspan x="1498 1516.5" y="-30.5" font-family="Liberation Serif, Times New Roman, Times, serif" font-size="41">&#8211;1</tspan><tspan x="1542" y="0">)</tspan></text>
<text transform="translate(66.2 0) rotate(-90) scale(1 1.035)" x="-1072.3 -1050.9 -1006.5 -985.4 -942.2 -899.0 -861.4 -844.6 -821.5 -790.0 -760.8 -736.2 -693.8 -672.6 -629.8 -604.5" y="0" font-family="Liberation Sans, Arial, Helvetica, sans-serif" font-size="76" fill="#000">Intensity (a.u.)</text>
<text x="363.6 396.5 428.6 462" y="102" font-family="Liberation Serif, Times New Roman, Times, serif" font-size="66" fill="#000">449 <tspan x="478.1" textLength="26.5" lengthAdjust="spacingAndGlyphs">c</tspan><tspan x="505.7" textLength="56.7" lengthAdjust="spacingAndGlyphs">m</tspan></text>
<text x="565.1 583.6" y="83.4" font-family="Liberation Serif, Times New Roman, Times, serif" font-size="41" fill="#000">&#8211;1</text>
<text transform="translate(0 327.3) scale(1 1.035)" x="2095.1 2151.0 2199.2 2241.4 2293.8" y="0" font-family="Liberation Sans, Arial, Helvetica, sans-serif" font-size="76" fill="#00FFFF">CZLEY</text>
<text transform="translate(0 726.6) scale(1 1.035)" x="2091.9 2147.2 2195.4 2239.0 2290.8" y="0" font-family="Liberation Sans, Arial, Helvetica, sans-serif" font-size="76" fill="#0000EE">CZLPY</text>
<text transform="translate(0 973.4) scale(1 1.035)" x="2071.5 2127.4 2175.6 2226.8 2280.9" y="0" font-family="Liberation Sans, Arial, Helvetica, sans-serif" font-size="76" fill="#00FF0C">CZEYG</text>
<text transform="translate(0 1466.0) scale(1 1.035)" x="2085.1 2139.2 2187.4 2231.4 2283.7" y="0" font-family="Liberation Sans, Arial, Helvetica, sans-serif" font-size="76" fill="#FA0000">CZLPG</text>
</svg></body></html>
